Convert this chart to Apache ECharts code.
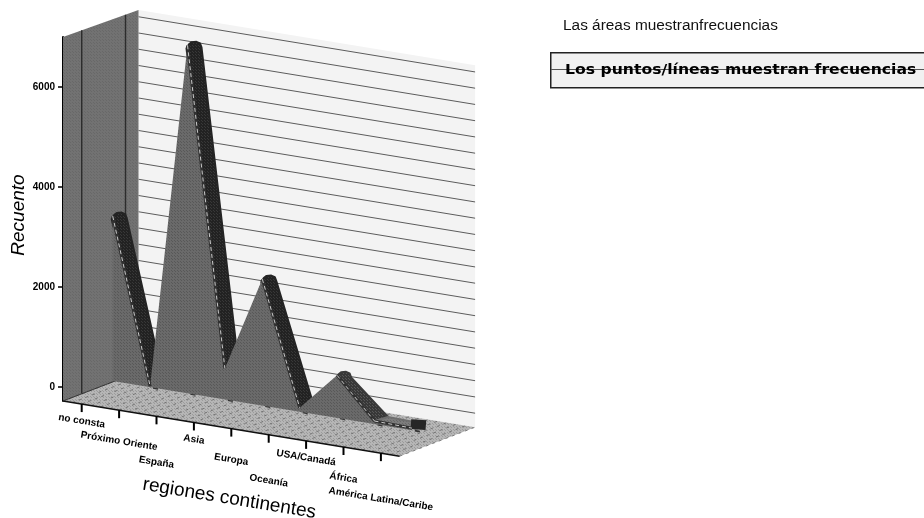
<!DOCTYPE html>
<html><head><meta charset="utf-8">
<style>html,body{margin:0;padding:0;background:#fff}#c{width:924px;height:518px}</style>
<script src="https://cdn.jsdelivr.net/npm/echarts@6/dist/echarts.min.js"></script>
</head><body><div id="c"></div>
<script>
const categories = ['no consta','Próximo Oriente','España','Asia','Europa','Oceanía','USA/Canadá','África','América Latina/Caribe'];
const counts = [3300, 20, 6960, 620, 2530, 80, 850, 60, 40];
const valueTicks = [0, 2000, 4000, 6000];
const wallLineValues = [0,325,650,975,1300,1625,1950,2275,2600,2925,3250,3575,3900,4225,4550,4875,5200,5525,5850,6175,6500,6825];
const labelLevels = [0,1,2,0,1,2,0,1,2];
const labelDrops = [17,31,46];

const AXIS_MIN=-280, AXIS_MAX=7000, BACK_TOP=6960;
const SLOPE=0.164, BACK=[75.5,-29], PLANE=[31,-9], RIB=[13.5,-4];

function tile(a,b,n){const c=document.createElement('canvas');c.width=c.height=n;const g=c.getContext('2d');
  g.fillStyle=a;g.fillRect(0,0,n,n);g.fillStyle=b;g.fillRect(0,0,1,1);if(n>2)g.fillRect(Math.floor(n/2),Math.floor(n/2),1,1);
  return {image:c,repeat:'repeat'};}
const fillArea=tile('#6a6a6a','#585858',3), fillRib=tile('#222222','#383838',3), fillRibSoft=tile('#383838','#585858',3),
      fillFlat=tile('#7c7c7c','#686868',3), fillFloor=tile('#b6b6b6','#9c9c9c',3), fillWall=tile('#727272','#686868',3);

function pt(api,i,v,shift,d){const c=api.coord([i,v]);const band=api.size([1,0])[0];
  const left=api.coord([0,v])[0]-band/2;const x=c[0]+(shift||0)*band;
  return [x+(d?d[0]:0), c[1]+SLOPE*(x-left)+(d?d[1]:0)];}
function poly(points,fill,z2,extra){return {type:'polygon',z2:z2||0,shape:{points},style:Object.assign({fill},extra||{})};}
function seg(a,b,stroke,w,z2,dash,cap){return {type:'line',z2:z2||0,shape:{x1:a[0],y1:a[1],x2:b[0],y2:b[1]},style:{stroke,lineWidth:w,lineDash:dash||null,lineCap:cap||'butt',fill:null}};}
const mul=(t)=>[BACK[0]*t,BACK[1]*t];

function renderStage(params,api){
  const ch=[]; const n=categories.length, L=0, R=n-1;
  const fl=(i,s,d)=>pt(api,i,AXIS_MIN,s,d);
  ch.push(poly([pt(api,L,BACK_TOP,-.5,BACK),pt(api,R,BACK_TOP,.5,BACK),fl(R,.5,BACK),fl(L,-.5,BACK)],'#f3f3f3',1));
  wallLineValues.forEach(v=>ch.push(seg(pt(api,L,v,-.5,BACK),pt(api,R,v,.5,BACK),'#5c5c5c',1,2)));
  ch.push(poly([pt(api,L,AXIS_MAX,-.5),pt(api,L,BACK_TOP,-.5,BACK),fl(L,-.5,BACK),fl(L,-.5)],fillWall,3));
  [0.248,0.828].forEach(t=>{const top=AXIS_MAX+(BACK_TOP-AXIS_MAX)*t;
    ch.push(seg(pt(api,L,top,-.5,mul(t)),fl(L,-.5,mul(t)),'#2c2c2c',1.4,4));});
  ch.push(poly([fl(L,-.5),fl(R,.5),fl(R,.5,BACK),fl(L,-.5,BACK)],fillFloor,5));
  for(let k=0;k<=36;k++){const t=k/36*n-.5; ch.push(seg(fl(0,t),fl(0,t,BACK),'#5c5c5c',.7,6,[3,4]));}
  ch.push(seg(fl(L,-.5),fl(R,.5),'#111',1.6,7));
  ch.push(seg(fl(L,-.5),fl(L,-.5,BACK),'#333',1,7));
  categories.forEach((name,i)=>{
    const p=fl(i,0);
    ch.push(seg([p[0],p[1]],[p[0],p[1]+8],'#000',2,8));
    ch.push({type:'text',z2:9,x:p[0],y:p[1]+labelDrops[labelLevels[i]],rotation:-Math.atan(SLOPE),
      style:{text:name,x:0,y:0,align:'center',verticalAlign:'middle',fill:'#000',font:'bold 10px "Liberation Sans"'}});
    if(i>0){const b=pt(api,i,0,0,PLANE); ch.push(seg([b[0]+3,b[1]+.5],[b[0]+8,b[1]+1.5],'#333',2,7));}
  });
  const mid=fl(4,0);
  ch.push({type:'text',z2:9,x:mid[0]-2,y:mid[1]+70,rotation:-Math.atan(SLOPE),
    style:{text:'regiones continentes',x:0,y:0,align:'center',verticalAlign:'middle',fill:'#000',font:'19px "Liberation Sans"'}});
  return {type:'group',children:ch};
}

function renderRibbons(params,api){
  const ch=[]; const P=i=>pt(api,i,counts[i],0,PLANE);
  const off=p=>[p[0]+RIB[0],p[1]+RIB[1]];
  for(let i=0;i<counts.length-1;i++){
    const a=P(i),b=P(i+1);
    const drop=(b[1]-a[1])/(b[0]-a[0]);
    const fill=drop>2?fillRib:(drop>.4?fillRibSoft:fillFlat);
    const col=drop>2?'#242424':(drop>.4?'#3a3a3a':'#6e6e6e');
    if(counts[i+1]<counts[i]){
      const oa=off(a);
      const outline=drop>.4
        ? [[a[0]-1,a[1]+3],[a[0]+1.5,a[1]-1],[a[0]+4,a[1]-3],[a[0]+9,a[1]-3.5],[oa[0]-1,oa[1]+2],[oa[0]+.5,oa[1]+6],b,off(b)]
        : [a,oa,off(b),b];
      const shape=drop>.4
        ? [[a[0]-1,a[1]+3],[a[0]+1.5,a[1]-1],[a[0]+4,a[1]-3],[a[0]+9,a[1]-3.5],[oa[0]-1,oa[1]+2],[oa[0]+.5,oa[1]+6],off(b),b]
        : outline;
      ch.push(poly(shape,fill,20,{stroke:col,lineWidth:2,lineJoin:'round'}));
    }
  }
  const e=P(counts.length-1);
  ch.push(seg([e[0]-1,e[1]-4],[e[0]+14,e[1]-3],'#262626',10,21,null,'butt'));
  return {type:'group',children:ch};
}

function renderAreas(params,api){
  const pts=[]; counts.forEach((v,i)=>pts.push(pt(api,i,v,0,PLANE)));
  const last=counts.length-1;
  pts.push(pt(api,last,0,0,PLANE)); pts.push(pt(api,0,0,0,PLANE));
  return poly(pts,fillArea,30);
}

function renderLines(params,api){
  const ch=[]; const P=i=>pt(api,i,counts[i],0,PLANE);
  for(let i=0;i<counts.length-1;i++){
    if(counts[i+1]<counts[i]){
      const a=P(i),b=P(i+1);
      ch.push(seg(a,b,'#303030',3,40));
      ch.push(seg(a,b,'#c8c8c8',1,41,[4,3]));
    }
  }
  return {type:'group',children:ch};
}

const chart=echarts.init(document.getElementById('c'),null,{renderer:'canvas',width:924,height:518});
const one=[[0,0]];
chart.setOption({
  animation:false,
  backgroundColor:'#fff',
  grid:{left:63,top:37,width:336.6,height:364},
  xAxis:{type:'category',data:categories,axisLine:{show:false},axisTick:{show:false},axisLabel:{show:false},splitLine:{show:false}},
  yAxis:{type:'value',min:AXIS_MIN,max:AXIS_MAX,name:'Recuento',nameLocation:'middle',nameGap:35,nameRotate:90,
    nameTextStyle:{fontFamily:'Liberation Sans',fontStyle:'italic',fontSize:19,color:'#000',padding:[0,0,0,8]},
    axisLine:{show:true,lineStyle:{color:'#000',width:2}},
    axisTick:{show:true,length:5,customValues:valueTicks,lineStyle:{color:'#000',width:1.5}},
    axisLabel:{show:true,customValues:valueTicks,margin:8,formatter:v=>String(v),fontFamily:'Liberation Sans',fontWeight:'bold',fontSize:10,color:'#000'},
    splitLine:{show:false}},
  graphic:[
    {type:'text',x:563,y:26.5,scaleX:1.1,style:{text:'Las áreas muestranfrecuencias',fill:'#111',font:'14px "Liberation Sans"',verticalAlign:'middle'},z:7},
    {type:'rect',left:550,top:52,shape:{x:0,y:0,width:376,height:35},style:{fill:'#f1f1f1',stroke:'#222',lineWidth:1.5},z:5},
    {type:'line',shape:{x1:551,y1:69.5,x2:924,y2:69.5},style:{stroke:'#555',lineWidth:1},z:6},
    {type:'text',x:565,y:70,scaleX:1.117,style:{text:'Los puntos/líneas muestran frecuencias',fill:'#000',font:'bold 14px "DejaVu Sans"',verticalAlign:'middle'},z:7}
  ],
  series:[
    {type:'custom',name:'stage',coordinateSystem:'cartesian2d',data:one,renderItem:renderStage,silent:true,z:1,clip:false},
    {type:'custom',name:'ribbon',coordinateSystem:'cartesian2d',data:one,renderItem:renderRibbons,silent:true,z:2,clip:false},
    {type:'custom',name:'Recuento',coordinateSystem:'cartesian2d',data:one,renderItem:renderAreas,silent:true,z:3,clip:false},
    {type:'custom',name:'line',coordinateSystem:'cartesian2d',data:one,renderItem:renderLines,silent:true,z:4,clip:false}
  ]
});
</script></body></html>
